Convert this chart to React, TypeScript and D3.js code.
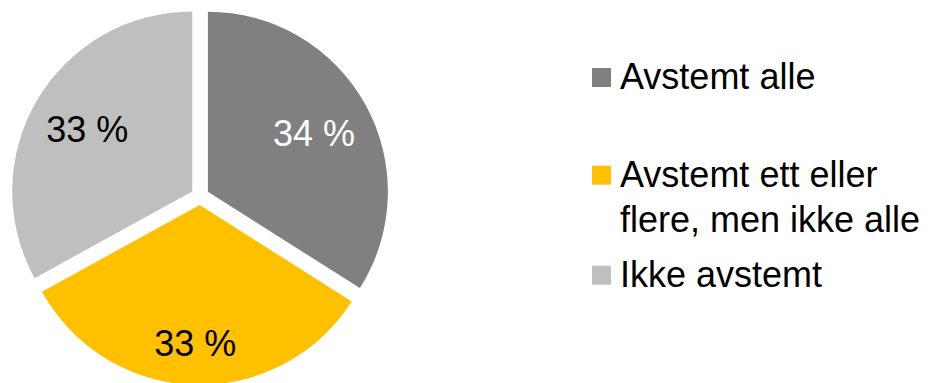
import React from "react";
import * as d3 from "d3";

// Share of units by reconciliation status
const categories: string[] = ["Avstemt alle", "Avstemt ett eller flere, men ikke alle", "Ikke avstemt"];
const legendLines: string[][] = [["Avstemt alle"], ["Avstemt ett eller", "flere, men ikke alle"], ["Ikke avstemt"]];
const values: number[] = [34, 33, 33];
const valueLabels: string[] = ["34 %", "33 %", "33 %"];
const colors: string[] = ["#808080", "#FFC000", "#BFBFBF"];
const labelColors: string[] = ["#FFFFFF", "#000000", "#000000"];

const WIDTH = 934;
const HEIGHT = 383;
const FONT = "'Liberation Sans', Arial, Helvetica, sans-serif";

export default function App() {
  const cx = 200;
  const cy = 196;
  const radius = 180;
  const explode = 9;
  const labelRadius = [121, 139, 122];

  const pie = d3
    .pie<number>()
    .sort(null)
    .value((d) => d)
    .startAngle(0)
    .endAngle(2 * Math.PI);
  const arcs = pie(values);
  const arcGen = d3.arc<d3.PieArcDatum<number>>().innerRadius(0).outerRadius(radius);

  const legendTop = [89, 186.7, 286.7];
  const legendX = 592;
  const boxSize = 19;
  const lineHeight = 45;

  return (
    <svg
      width={WIDTH}
      height={HEIGHT}
      style={{ position: "absolute", left: 0, top: 0, background: "#fff" }}
      fontFamily={FONT}
    >
      <g transform={`translate(${cx},${cy})`}>
        {arcs.map((a, i) => {
          const mid = (a.startAngle + a.endAngle) / 2;
          const dx = Math.sin(mid) * explode;
          const dy = -Math.cos(mid) * explode;
          const lx = Math.sin(mid) * labelRadius[i];
          const ly = -Math.cos(mid) * labelRadius[i];
          return (
            <g key={categories[i]} transform={`translate(${dx},${dy})`}>
              <path d={arcGen(a) || ""} fill={colors[i]} />
              <text
                x={lx}
                y={ly}
                textAnchor="middle"
                dominantBaseline="central"
                fontSize={36}
                fill={labelColors[i]}
              >
                {valueLabels[i]}
              </text>
            </g>
          );
        })}
      </g>
      <g>
        {legendLines.map((lines, i) => (
          <g key={categories[i]}>
            <rect
              x={legendX}
              y={legendTop[i] - 21}
              width={boxSize}
              height={boxSize}
              fill={colors[i]}
            />
            {lines.map((ln, j) => (
              <text
                key={ln}
                x={legendX + 28}
                y={legendTop[i] + j * lineHeight}
                fontSize={36}
                fill="#000"
              >
                {ln}
              </text>
            ))}
          </g>
        ))}
      </g>
    </svg>
  );
}
